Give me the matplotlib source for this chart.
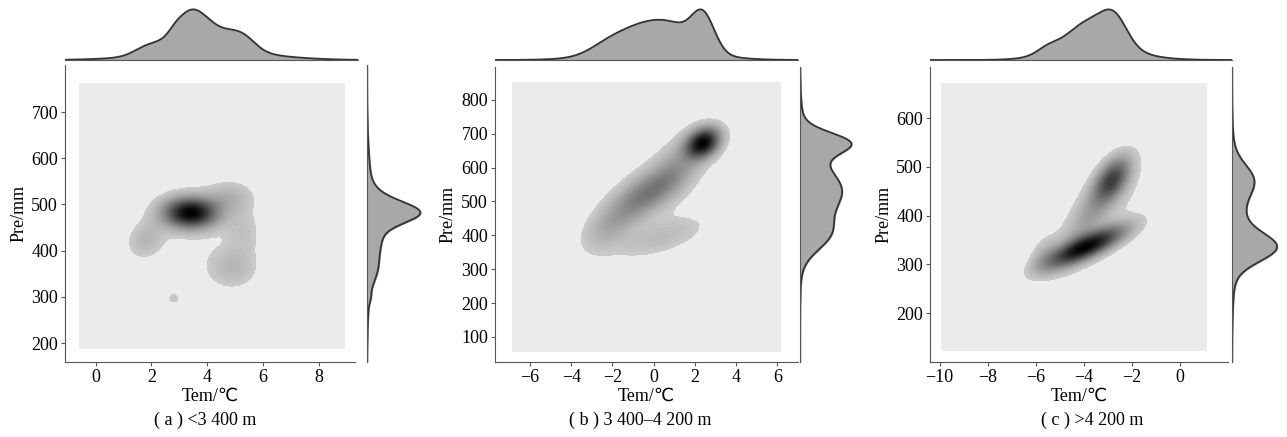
import numpy as np
import matplotlib
matplotlib.use('Agg')
import matplotlib.pyplot as plt
from matplotlib.colors import ListedColormap

plt.rcParams['font.family'] = ['Liberation Serif', 'DejaVu Sans']

# ---- data: gaussian blobs -----------------------------------------------
# (a) <3 400 m
a_mx  = [3.4, 1.8, 4.8, 4.9, 5.3, 2.8, 4.0]
a_my  = [482, 425, 515, 362, 440, 297, 450]
a_sx  = [0.65, 0.45, 0.55, 0.6, 0.4, 0.18, 1.9]
a_sy  = [22, 28, 22, 30, 35, 10, 100]
a_rho = [0.0, 0.2, 0.0, 0.0, 0.0, 0.0, 0.0]
a_w   = [0.40, 0.055, 0.055, 0.075, 0.035, 0.005, 0.30]

# (b) 3 400-4 200 m
b_mx  = [2.4, -0.3, -2.2, 0.5, 0.0, 1.2]
b_my  = [673, 525, 420, 395, 540, 610]
b_sx  = [0.55, 1.2, 0.9, 1.6, 2.2, 0.8]
b_sy  = [30, 55, 50, 45, 120, 60]
b_rho = [0.3, 0.7, 0.5, 0.6, 0.65, 0.5]
b_w   = [0.20, 0.24, 0.08, 0.11, 0.25, 0.08]

# (c) >4 200 m
c_mx  = [-3.9, -2.8, -3.6, -3.5, -5.6]
c_my  = [336, 475, 415, 390, 320]
c_sx  = [1.1, 0.5, 0.8, 1.6, 0.4]
c_sy  = [28, 30, 60, 90, 25]
c_rho = [0.8, 0.5, 0.8, 0.7, 0.3]
c_w   = [0.38, 0.17, 0.13, 0.24, 0.03]

panels = [
    dict(mx=a_mx, my=a_my, sx=a_sx, sy=a_sy, rho=a_rho, w=a_w,
         xlim=(-1.1, 9.3), ylim=(159, 802), grid_x=(-0.57, 8.92), grid_y=(189, 763),
         xticks=[0, 2, 4, 6, 8], yticks=[200, 300, 400, 500, 600, 700],
         cap='( a ) <3 400 m', ylab='Pre/mm'),
    dict(mx=b_mx, my=b_my, sx=b_sx, sy=b_sy, rho=b_rho, w=b_w,
         xlim=(-7.7, 7.0), ylim=(26, 897), grid_x=(-6.87, 6.15), grid_y=(56, 850),
         xticks=[-6, -4, -2, 0, 2, 4, 6], yticks=[100, 200, 300, 400, 500, 600, 700, 800],
         cap='( b ) 3 400–4 200 m', ylab='Pre/mm'),
    dict(mx=c_mx, my=c_my, sx=c_sx, sy=c_sy, rho=c_rho, w=c_w,
         xlim=(-10.4, 2.0), ylim=(100, 705), grid_x=(-9.92, 1.1), grid_y=(124, 672),
         xticks=[-10, -8, -6, -4, -2, 0], yticks=[200, 300, 400, 500, 600],
         cap='( c ) >4 200 m', ylab='Pre/mm'),
]

# pixel boxes (x0, y0, x1, y1) for joint / right marginal / top marginal
W, H = 1287, 437
boxes = [
    [(65, 65, 355, 362), (367, 65, 425, 362), (65, 5, 358, 60)],
    [(495, 67, 798, 362), (800, 67, 856, 362), (495, 5, 798, 60)],
    [(930, 67, 1228, 362), (1232, 67, 1287, 362), (930, 5, 1232, 60)],
]
marg_fill = [(0.92, 0.92), (0.92, 0.92), (0.92, 0.82)]
cap_x = [205, 640, 1092]


def rect(b):
    x0, y0, x1, y1 = b
    return [x0 / W, 1 - y1 / H, (x1 - x0) / W, (y1 - y0) / H]


def dens2d(X, Y, p):
    Z = np.zeros_like(X)
    for mx, my, sx, sy, r, w in zip(p['mx'], p['my'], p['sx'], p['sy'], p['rho'], p['w']):
        u = (X - mx) / sx
        v = (Y - my) / sy
        q = (u * u - 2 * r * u * v + v * v) / (1 - r * r)
        Z += w * np.exp(-0.5 * q) / (2 * np.pi * sx * sy * np.sqrt(1 - r * r))
    return Z


def dens1d(t, m, s, w):
    out = np.zeros_like(t)
    for mi, si, wi in zip(m, s, w):
        out += wi * np.exp(-0.5 * ((t - mi) / si) ** 2) / (si * np.sqrt(2 * np.pi))
    return out


# grey ramp with a hard step at the lowest contour, like the original
nlev = 60
th = 0.08
tt = (np.arange(nlev) + 0.5) / nlev
g = np.where(tt < th, 0.92, 0.80 * (1 - np.clip((tt - th) / (1 - th), 0, 1)))
cmap = ListedColormap([(v, v, v) for v in g])

fig = plt.figure(figsize=(W / 100, H / 100), dpi=100)

for p, bx, mf, cx in zip(panels, boxes, marg_fill, cap_x):
    ax = fig.add_axes(rect(bx[0]))
    axr = fig.add_axes(rect(bx[1]))
    axt = fig.add_axes(rect(bx[2]))

    gx = np.linspace(*p['grid_x'], 300)
    gy = np.linspace(*p['grid_y'], 300)
    X, Y = np.meshgrid(gx, gy)
    Z = dens2d(X, Y, p)
    Z = Z / Z.max()
    ax.contourf(X, Y, Z, levels=np.linspace(0, 1, nlev + 1), cmap=cmap, vmin=0, vmax=1)

    ax.set_xlim(p['xlim']); ax.set_ylim(p['ylim'])
    ax.set_xticks(p['xticks']); ax.set_yticks(p['yticks'])
    ax.set_xticklabels([str(v).replace('-', '−') for v in p['xticks']])
    ax.tick_params(labelsize=13, length=3, color='#555555', pad=2)
    for s in ['top', 'right']:
        ax.spines[s].set_visible(False)
    for s in ['left', 'bottom']:
        ax.spines[s].set_color('#555555')
    ax.set_xlabel('Tem/℃', fontsize=13, labelpad=1)
    ax.set_ylabel(p['ylab'], fontsize=13, labelpad=3)

    # marginals
    mx_line = np.linspace(*p['xlim'], 400)
    fx = dens1d(mx_line, p['mx'], p['sx'], p['w'])
    axt.fill_between(mx_line, 0, fx, color='#a8a8a8')
    axt.plot(mx_line, fx, color='#333333', lw=1.3)
    axt.set_xlim(p['xlim']); axt.set_ylim(0, fx.max() / mf[0])

    my_line = np.linspace(*p['ylim'], 400)
    fy = dens1d(my_line, p['my'], p['sy'], p['w'])
    axr.fill_betweenx(my_line, 0, fy, color='#a8a8a8')
    axr.plot(fy, my_line, color='#333333', lw=1.3)
    axr.set_ylim(p['ylim']); axr.set_xlim(0, fy.max() / mf[1])

    for m in (axt, axr):
        m.set_xticks([]); m.set_yticks([])
        for s in m.spines.values():
            s.set_visible(False)
    axt.spines['bottom'].set_visible(True); axt.spines['bottom'].set_color('#555555')
    axr.spines['left'].set_visible(True); axr.spines['left'].set_color('#555555')

    fig.text(cx / W, 1 - 420 / H, p['cap'], ha='center', va='center', fontsize=13)

fig.savefig('out.png', dpi=100)
